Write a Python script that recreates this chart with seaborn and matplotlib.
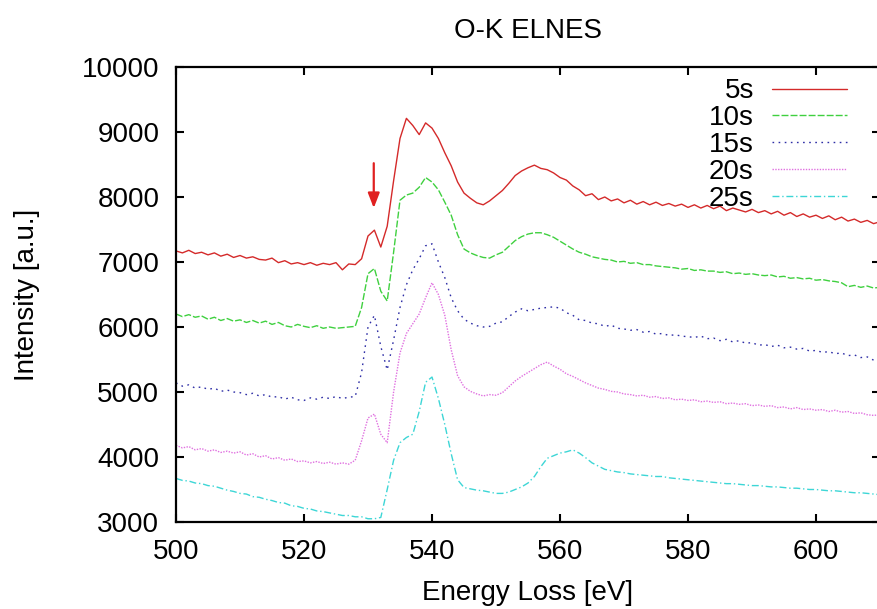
import matplotlib
matplotlib.use("Agg")
import matplotlib.pyplot as plt
import numpy as np
import pandas as pd
import seaborn as sns

# Energy axis (eV), 1 eV steps
energy = list(range(500, 611))

# Intensities for each acquisition time
s5 = [
    7170, 7140, 7180, 7130, 7150, 7110, 7140, 7090, 7120, 7070,
    7100, 7060, 7080, 7040, 7030, 7060, 6990, 7020, 6970, 6990,
    6960, 6990, 6950, 6980, 6960, 6990, 6880, 6970, 6960, 7050,
    7400, 7490, 7230, 7550, 8250, 8900, 9210, 9100, 8960, 9140,
    9060, 8900, 8680, 8480, 8230, 8060, 7980, 7910, 7880, 7940,
    8020, 8100, 8210, 8330, 8400, 8450, 8490, 8440, 8420, 8370,
    8300, 8260, 8170, 8110, 8020, 8050, 7960, 8000, 7940, 7970,
    7910, 7950, 7890, 7930, 7880, 7920, 7870, 7900, 7860, 7890,
    7840, 7880, 7830, 7870, 7820, 7860, 7790, 7830, 7800, 7770,
    7810, 7760, 7790, 7740, 7780, 7720, 7760, 7700, 7740, 7690,
    7720, 7670, 7710, 7650, 7690, 7630, 7660, 7610, 7640, 7590,
    7620,
]
s10 = [
    6200, 6160, 6190, 6150, 6170, 6120, 6150, 6100, 6130, 6090,
    6110, 6070, 6100, 6060, 6090, 6040, 6070, 6020, 6000, 6040,
    6010, 5990, 6020, 5980, 6000, 5980, 5990, 6000, 6010, 6300,
    6820, 6900, 6550, 6400, 7150, 7950, 8030, 8060, 8150, 8300,
    8230, 8110, 7920, 7720, 7420, 7200, 7140, 7100, 7070, 7060,
    7110, 7150, 7240, 7330, 7390, 7430, 7450, 7450, 7420, 7380,
    7320, 7260, 7200, 7150, 7120, 7080, 7060, 7040, 7030, 7000,
    7010, 6980, 6990, 6960, 6960, 6940, 6930, 6920, 6910, 6890,
    6900, 6870, 6880, 6860, 6860, 6840, 6850, 6820, 6830, 6810,
    6820, 6800, 6790, 6800, 6770, 6780, 6750, 6760, 6740, 6750,
    6720, 6730, 6710, 6700, 6680, 6620, 6640, 6610, 6630, 6600,
    6610,
]
s15 = [
    5140, 5090, 5110, 5060, 5080, 5040, 5060, 5010, 5030, 5000,
    4990, 4960, 4980, 4940, 4960, 4920, 4930, 4890, 4920, 4880,
    4870, 4910, 4890, 4920, 4900, 4930, 4900, 4920, 4930, 5300,
    6000, 6180, 5700, 5340, 5800, 6300, 6650, 6880, 7050, 7250,
    7280, 7000, 6760, 6450, 6250, 6120, 6060, 6020, 6000, 6010,
    6060, 6080, 6160, 6230, 6280, 6250, 6270, 6290, 6300, 6310,
    6290, 6220, 6180, 6110, 6100, 6060, 6050, 6010, 6030, 5980,
    5970, 5950, 5960, 5920, 5930, 5890, 5900, 5870, 5880, 5860,
    5850, 5840, 5860, 5820, 5830, 5790, 5810, 5770, 5790, 5750,
    5760, 5720, 5730, 5700, 5720, 5680, 5690, 5660, 5670, 5630,
    5640, 5610, 5620, 5590, 5600, 5560, 5570, 5530, 5540, 5490,
    5500,
]
s20 = [
    4180, 4140, 4160, 4110, 4130, 4090, 4110, 4070, 4090, 4060,
    4080, 4030, 4050, 4000, 4020, 3970, 3990, 3950, 3970, 3930,
    3940, 3910, 3930, 3900, 3920, 3890, 3910, 3890, 3950, 4250,
    4600, 4660, 4350, 4220, 5000, 5600, 5900, 6050, 6200, 6450,
    6680, 6500, 6180, 5650, 5250, 5080, 5010, 4970, 4940, 4960,
    4950, 4990, 5080, 5170, 5240, 5300, 5360, 5420, 5460, 5400,
    5350, 5280, 5240, 5190, 5140, 5100, 5060, 5040, 5010, 5000,
    4970, 4960, 4940, 4950, 4920, 4930, 4900, 4910, 4880, 4890,
    4870, 4880, 4850, 4860, 4840, 4850, 4820, 4830, 4810, 4820,
    4790, 4800, 4780, 4790, 4760, 4770, 4740, 4760, 4730, 4740,
    4720, 4730, 4700, 4720, 4690, 4700, 4670, 4680, 4650, 4640,
    4650,
]
s25 = [
    3670, 3640, 3630, 3600, 3590, 3560, 3550, 3520, 3490, 3470,
    3440, 3430, 3390, 3380, 3350, 3330, 3300, 3290, 3250, 3240,
    3210, 3200, 3170, 3160, 3140, 3120, 3100, 3100, 3080, 3080,
    3050, 3050, 3070, 3500, 3950, 4220, 4300, 4350, 4700, 5150,
    5230, 4900, 4500, 4050, 3650, 3530, 3510, 3490, 3480, 3460,
    3440, 3440, 3460, 3500, 3540, 3600, 3700, 3850, 3980, 4020,
    4060, 4080, 4110, 4060, 3990, 3910, 3860, 3810, 3790, 3770,
    3760, 3740, 3730, 3720, 3710, 3700, 3700, 3680, 3670, 3660,
    3650, 3640, 3630, 3620, 3610, 3600, 3590, 3590, 3580, 3570,
    3560, 3560, 3550, 3540, 3540, 3530, 3520, 3520, 3510, 3500,
    3500, 3490, 3480, 3480, 3470, 3460, 3450, 3450, 3440, 3430,
    3420,
]

labels = ["5s", "10s", "15s", "20s", "25s"]
colors = ["#d42a2a", "#3fd03f", "#2e2ea6", "#e070e0", "#3dd6d6"]
dash_styles = ["", (5, 1.5), (1.2, 3.2), (1, 1), (5, 2, 1, 2)]

# Arrow marking the pre-edge peak
arrow_x = 530.9
arrow_top = 8520
arrow_tip = 7830


def plot_ok_elnes():
    df = pd.DataFrame({"Energy": energy, "5s": s5, "10s": s10, "15s": s15,
                       "20s": s20, "25s": s25})
    long_df = df.melt(id_vars="Energy", var_name="time", value_name="Intensity")

    sns.set_style("ticks")
    plt.rcParams["font.family"] = ["Liberation Sans", "DejaVu Sans"]
    for key in ["text.color", "axes.labelcolor", "xtick.color", "ytick.color",
                "axes.edgecolor"]:
        plt.rcParams[key] = "black"
    fs = 20

    fig = plt.figure(figsize=(8.77, 6.09), dpi=100)
    ax = fig.add_axes([176 / 877, 87 / 609, 704 / 877, 455 / 609])

    sns.lineplot(
        data=long_df,
        x="Energy",
        y="Intensity",
        hue="time",
        style="time",
        hue_order=labels,
        style_order=labels,
        palette=dict(zip(labels, colors)),
        dashes=dict(zip(labels, dash_styles)),
        linewidth=1.0,
        ax=ax,
    )

    ax.annotate(
        "",
        xy=(arrow_x, arrow_tip),
        xytext=(arrow_x, arrow_top),
        arrowprops=dict(arrowstyle="-|>,head_length=0.9,head_width=0.35",
                        color="#e02020", lw=1.6, shrinkA=0, shrinkB=0),
    )

    ax.set_xlim(500, 610)
    ax.set_ylim(3000, 10000)
    ax.set_xticks(np.arange(500, 611, 20))
    ax.set_yticks(np.arange(3000, 10001, 1000))
    ax.set_title("O-K ELNES", fontsize=fs, pad=21)
    ax.set_xlabel("Energy Loss [eV]", fontsize=fs, labelpad=11)
    ax.set_ylabel("Intensity [a.u.]", fontsize=fs, labelpad=30)
    ax.tick_params(direction="in", length=6, width=1.5, top=True, right=True,
                   labelsize=fs, pad=12)
    for spine in ax.spines.values():
        spine.set_linewidth(1.6)
        spine.set_visible(True)

    handles, leg_labels = ax.get_legend_handles_labels()
    ax.legend(
        handles,
        leg_labels,
        loc="upper right",
        bbox_to_anchor=(0.953, 0.975),
        frameon=False,
        markerfirst=False,
        fontsize=fs,
        handlelength=2.7,
        handletextpad=0.65,
        labelspacing=0.03,
        borderpad=0,
        borderaxespad=0,
    )

    fig.savefig("out.png", dpi=100)
    plt.close(fig)


if __name__ == "__main__":
    plot_ok_elnes()
